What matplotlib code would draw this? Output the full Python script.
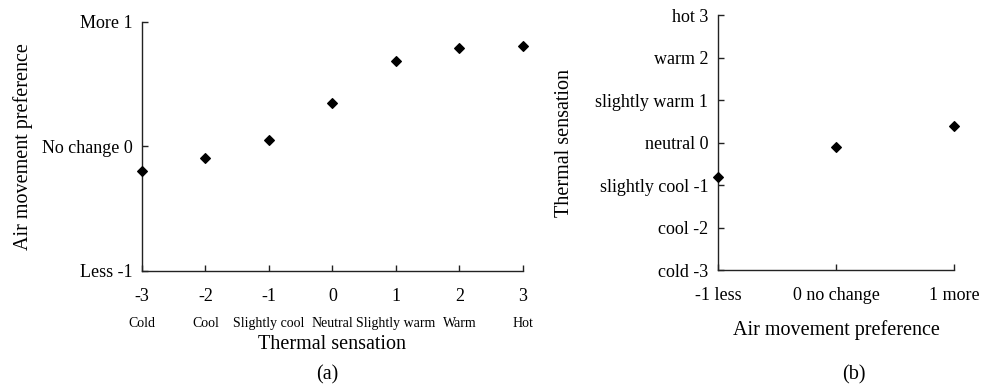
import matplotlib
matplotlib.use("Agg")
import matplotlib.pyplot as plt

plt.rcParams['font.family'] = ['Liberation Serif', 'DejaVu Serif']

# panel (a): air movement preference vs thermal sensation
ts_values = [-3, -2, -1, 0, 1, 2, 3]
ts_names = ["Cold", "Cool", "Slightly cool", "Neutral", "Slightly warm", "Warm", "Hot"]
amp_mean = [-0.20, -0.09, 0.05, 0.35, 0.69, 0.79, 0.81]
amp_ticks = [-1, 0, 1]
amp_ticklabels = ["Less -1", "No change 0", "More 1"]

# panel (b): thermal sensation vs air movement preference
pref_values = [-1, 0, 1]
pref_ticklabels = ["-1 less", "0 no change", "1 more"]
ts_mean = [-0.80, -0.09, 0.40]
ts_ticks = [-3, -2, -1, 0, 1, 2, 3]
ts_ticklabels = ["cold -3", "cool -2", "slightly cool -1", "neutral 0",
                 "slightly warm 1", "warm 2", "hot 3"]

fig = plt.figure(figsize=(9.95, 3.92), dpi=100)
ax1 = fig.add_axes([0.1427, 0.3087, 0.3829, 0.6352])
ax2 = fig.add_axes([0.7216, 0.311, 0.2372, 0.650])

for ax in (ax1, ax2):
    for s in ("top", "right"):
        ax.spines[s].set_visible(False)
    for s in ("left", "bottom"):
        ax.spines[s].set_linewidth(1.0)
        ax.spines[s].set_color("#222222")
    ax.tick_params(direction="in", length=4, width=1.0, colors="#222222",
                   labelsize=13, labelcolor="black")
    ax.tick_params(axis="x", pad=12)
    ax.tick_params(axis="y", pad=7)

# (a)
ax1.scatter(ts_values, amp_mean, marker="D", s=24, color="black", clip_on=False, zorder=3)
ax1.set_xlim(-3, 3)
ax1.set_ylim(-1, 1)
ax1.set_xticks(ts_values)
ax1.set_xticklabels([str(v) for v in ts_values])
ax1.set_yticks(amp_ticks)
ax1.set_yticklabels(amp_ticklabels)
for v, name in zip(ts_values, ts_names):
    ax1.text(v, -0.21, name, transform=ax1.get_xaxis_transform(),
             ha="center", va="center", fontsize=10)
ax1.set_xlabel("Thermal sensation", fontsize=14.5, va="center")
ax1.xaxis.set_label_coords(0.5, -0.297)
ax1.set_ylabel("Air movement preference", fontsize=14.5, va="center")
ax1.yaxis.set_label_coords(-0.312, 0.5)
ax1.text(0.486, -0.418, "(a)", transform=ax1.transAxes, ha="center", va="center", fontsize=14.5)

# (b)
ax2.scatter(pref_values, ts_mean, marker="D", s=24, color="black", clip_on=False, zorder=3)
ax2.set_xlim(-1, 1)
ax2.set_ylim(-3, 3)
ax2.set_xticks(pref_values)
ax2.set_xticklabels(pref_ticklabels)
ax2.set_yticks(ts_ticks)
ax2.set_yticklabels(ts_ticklabels)
ax2.set_xlabel("Air movement preference", fontsize=14.5, va="center")
ax2.xaxis.set_label_coords(0.5, -0.235)
ax2.set_ylabel("Thermal sensation", fontsize=14.5, va="center")
ax2.yaxis.set_label_coords(-0.65, 0.5)
ax2.text(0.576, -0.412, "(b)", transform=ax2.transAxes, ha="center", va="center", fontsize=14.5)

fig.savefig("out.png", dpi=100)
